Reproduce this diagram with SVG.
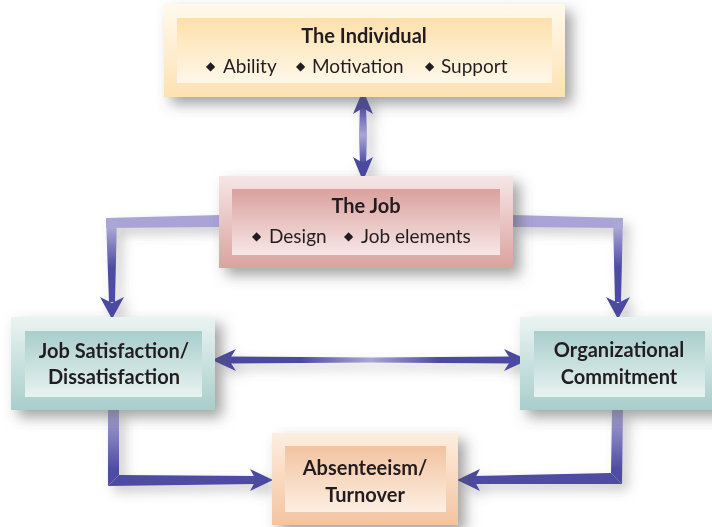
<svg xmlns="http://www.w3.org/2000/svg" width="712" height="527" viewBox="0 0 712 527">
<defs>
<style>
.t{font-family:Lato,"Open Sans","Liberation Sans",sans-serif;fill:#231f20;font-size:19px}
.b{font-weight:bold;font-size:20px}
.c{text-anchor:middle}
.d{font-family:"DejaVu Sans",sans-serif;font-size:12px}
.arrow{fill:#4b49a0}
</style>
<filter id="sh" x="-20%" y="-30%" width="150%" height="170%">
<feGaussianBlur in="SourceAlpha" stdDeviation="7"/>
<feOffset dx="7" dy="7" result="o"/>
<feFlood flood-color="#555" flood-opacity="0.55"/>
<feComposite in2="o" operator="in"/>
<feMerge><feMergeNode/><feMergeNode in="SourceGraphic"/></feMerge>
</filter>
<filter id="ash" x="-30%" y="-30%" width="160%" height="160%">
<feGaussianBlur in="SourceAlpha" stdDeviation="6"/>
<feOffset dx="6" dy="6" result="o"/>
<feFlood flood-color="#666" flood-opacity="0.35"/>
<feComposite in2="o" operator="in"/>
<feMerge><feMergeNode/><feMergeNode in="SourceGraphic"/></feMerge>
</filter>
<linearGradient id="yO" x1="0" y1="0" x2="0" y2="1"><stop offset="0" stop-color="#fff9ec"/><stop offset="1" stop-color="#fde2b3"/></linearGradient>
<linearGradient id="yI" x1="0" y1="0" x2="0" y2="1"><stop offset="0" stop-color="#fde0aa"/><stop offset="1" stop-color="#fff8ea"/></linearGradient>
<linearGradient id="rO" x1="0" y1="0" x2="0" y2="1"><stop offset="0" stop-color="#f6e6e6"/><stop offset="1" stop-color="#daa39f"/></linearGradient>
<linearGradient id="rI" x1="0" y1="0" x2="0" y2="1"><stop offset="0" stop-color="#d9a19d"/><stop offset="1" stop-color="#f7e7e7"/></linearGradient>
<linearGradient id="gO" x1="0" y1="0" x2="0" y2="1"><stop offset="0" stop-color="#eaf4f2"/><stop offset="1" stop-color="#a8cecb"/></linearGradient>
<linearGradient id="gI" x1="0" y1="0" x2="0" y2="1"><stop offset="0" stop-color="#a8cecb"/><stop offset="1" stop-color="#e8f3f1"/></linearGradient>
<linearGradient id="oO" x1="0" y1="0" x2="0" y2="1"><stop offset="0" stop-color="#fdeedf"/><stop offset="1" stop-color="#f3c4a0"/></linearGradient>
<linearGradient id="oI" x1="0" y1="0" x2="0" y2="1"><stop offset="0" stop-color="#f3c3a0"/><stop offset="1" stop-color="#fdefe2"/></linearGradient>
<linearGradient id="vDown" gradientUnits="userSpaceOnUse" x1="0" y1="228" x2="0" y2="268"><stop offset="0" stop-color="#aaa6d6"/><stop offset="1" stop-color="#4d4ba2"/></linearGradient>
<linearGradient id="vDown2" gradientUnits="userSpaceOnUse" x1="0" y1="410" x2="0" y2="470"><stop offset="0" stop-color="#aaa6d6"/><stop offset="1" stop-color="#4d4ba2"/></linearGradient>
<linearGradient id="vMid" gradientUnits="userSpaceOnUse" x1="0" y1="105" x2="0" y2="165"><stop offset="0" stop-color="#4b49a0"/><stop offset="0.5" stop-color="#aaa6d6"/><stop offset="1" stop-color="#4b49a0"/></linearGradient>
<linearGradient id="hMid" gradientUnits="userSpaceOnUse" x1="230" y1="0" x2="510" y2="0"><stop offset="0" stop-color="#4b49a0"/><stop offset="0.25" stop-color="#4b49a0"/><stop offset="0.5" stop-color="#aaa6d6"/><stop offset="0.75" stop-color="#4b49a0"/><stop offset="1" stop-color="#4b49a0"/></linearGradient>
</defs>
<rect width="712" height="527" fill="#ffffff"/>

<g id="connectors" filter="url(#ash)">
<!-- Job to Job Satisfaction -->
<polygon points="220,215 106,218 106,228 220,227" fill="#a9a4d5"/>
<polygon points="106,218 117,218 115,302 109,302" fill="url(#vDown)"/>
<polygon class="arrow" points="112,319 100,297 112,303 124,297"/>
<!-- Job to Org Commitment -->
<polygon points="512,215 623,218 623,228 512,227" fill="#a9a4d5"/>
<polygon points="613,218 623,218 621,302 615,302" fill="url(#vDown)"/>
<polygon class="arrow" points="618,319 606,297 618,303 630,297"/>
<!-- Individual <-> Job -->
<polygon points="360,106 366,106 367,135 366,164 360,164 359,135" fill="url(#vMid)"/>
<polygon class="arrow" points="363,90 353,114 363,108 373,114"/>
<polygon class="arrow" points="363,181 353,157 363,163 373,157"/>
<!-- JobSat <-> Org -->
<polygon points="228,356.5 370,357.5 512,356.5 512,363.5 370,362.5 228,363.5" fill="url(#hMid)"/>
<polygon class="arrow" points="212,360 236,349 229,360 236,371"/>
<polygon class="arrow" points="528,360 504,349 511,360 504,371"/>
<!-- JobSat to Absenteeism -->
<polygon points="108,410 119,410 119,475 108,486" fill="url(#vDown2)"/>
<polygon points="108,486 119,475 256,476 256,484" fill="#4d4ba2"/>
<polygon class="arrow" points="273,480 250,469 256,480 250,491"/>
<!-- Org to Absenteeism -->
<polygon points="612,410 623,410 622,484 611,473" fill="url(#vDown2)"/>
<polygon points="622,484 611,473 474,476 474,484" fill="#4d4ba2"/>
<polygon class="arrow" points="457,480 480,469 474,480 480,491"/>
</g>

<g id="individual" filter="url(#sh)">
<rect x="164" y="4" width="401" height="93" fill="url(#yO)"/>
<rect x="177" y="18" width="375" height="65" fill="url(#yI)"/>
<text class="t b c" x="364" y="43">The Individual</text>
<text class="t" y="73"><tspan class="d" x="206" dy="-3">◆</tspan><tspan x="223" dy="3">Ability</tspan><tspan class="d" x="296" dy="-3">◆</tspan><tspan x="312" dy="3">Motivation</tspan><tspan class="d" x="425" dy="-3">◆</tspan><tspan x="441" dy="3">Support</tspan></text>
</g>

<g id="job" filter="url(#sh)">
<rect x="219" y="176" width="294" height="92" fill="url(#rO)"/>
<rect x="232" y="189" width="268" height="66" fill="url(#rI)"/>
<text class="t b c" x="366" y="213">The Job</text>
<text class="t" y="243"><tspan class="d" x="252" dy="-3">◆</tspan><tspan x="269" dy="3">Design</tspan><tspan class="d" x="344" dy="-3">◆</tspan><tspan x="361" dy="3">Job elements</tspan></text>
</g>

<g id="satisfaction" filter="url(#sh)">
<rect x="11" y="317" width="204" height="93" fill="url(#gO)"/>
<rect x="25" y="331" width="177" height="66" fill="url(#gI)"/>
<text class="t b c" x="114" y="358">Job Satisfaction/</text>
<text class="t b c" x="114" y="384">Dissatisfaction</text>
</g>

<g id="commitment" filter="url(#sh)">
<rect x="520" y="317" width="200" height="93" fill="url(#gO)"/>
<rect x="534" y="331" width="171" height="66" fill="url(#gI)"/>
<text class="t b c" x="619" y="357">Organizational</text>
<text class="t b c" x="619" y="384">Commitment</text>
</g>

<g id="absenteeism" filter="url(#sh)">
<rect x="272" y="433" width="186" height="92" fill="url(#oO)"/>
<rect x="285" y="446" width="161" height="66" fill="url(#oI)"/>
<text class="t b c" x="365" y="475">Absenteeism/</text>
<text class="t b c" x="365" y="502">Turnover</text>
</g>
</svg>
